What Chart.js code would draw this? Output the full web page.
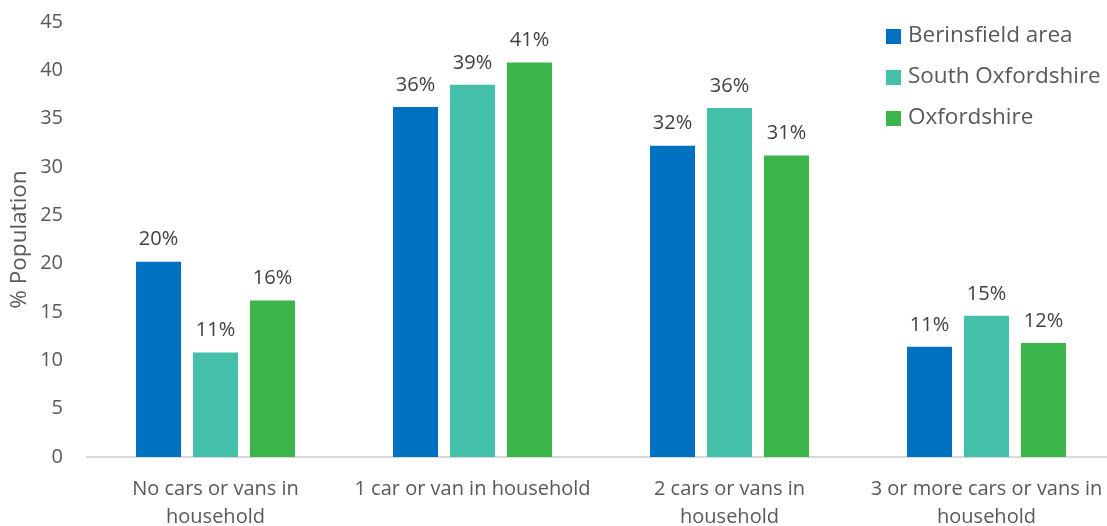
<!DOCTYPE html>
<html>
<head>
<meta charset="utf-8">
<script src="https://cdn.jsdelivr.net/npm/chart.js@4"></script>
<style>
  html, body { margin: 0; padding: 0; background: #fff; overflow: hidden; }
  #wrap { width: 1115px; height: 526px; }
</style>
</head>
<body>
<div id="wrap"><canvas id="chart"></canvas></div>
<script>
const categories = [
    ['No cars or vans in', 'household'],
    ['1 car or van in household'],
    ['2 cars or vans in', 'household'],
    ['3 or more cars or vans in', 'household']
];
const seriesNames = ['Berinsfield area', 'South Oxfordshire', 'Oxfordshire'];
const berinsfield = [20.2, 36.2, 32.2, 11.4];
const southOxon = [10.8, 38.5, 36.1, 14.6];
const oxfordshire = [16.2, 40.8, 31.2, 11.8];
const yTicks = [0, 5, 10, 15, 20, 25, 30, 35, 40, 45];

const colors = ['#0070C0', '#43BFAA', '#3BB54A'];

Chart.defaults.font.family = "'Open Sans', sans-serif";
Chart.defaults.color = '#595959';

// value labels on top of each bar
const barLabels = {
    id: 'barLabels',
    afterDatasetsDraw(chart) {
        const ctx = chart.ctx;
        ctx.save();
        ctx.font = "20px 'Open Sans', sans-serif";
        ctx.fillStyle = '#404040';
        ctx.textAlign = 'center';
        ctx.textBaseline = 'middle';
        chart.data.datasets.forEach((ds, i) => {
            chart.getDatasetMeta(i).data.forEach((bar, j) => {
                ctx.fillText(Math.round(ds.data[j]) + '%', bar.x, bar.y - 22);
            });
        });
        ctx.restore();
    }
};

// vertical legend in the top right corner
const cornerLegend = {
    id: 'cornerLegend',
    afterDraw(chart) {
        const ctx = chart.ctx;
        ctx.save();
        ctx.font = "22.5px 'Open Sans', sans-serif";
        ctx.textBaseline = 'middle';
        ctx.textAlign = 'left';
        chart.data.datasets.forEach((ds, i) => {
            const y = 36 + i * 41;
            ctx.fillStyle = ds.backgroundColor;
            ctx.fillRect(886, y - 7, 15, 15);
            ctx.fillStyle = '#595959';
            ctx.fillText(ds.label, 908, y);
        });
        ctx.restore();
    }
};

new Chart(document.getElementById('chart'), {
    type: 'bar',
    data: {
        labels: categories,
        datasets: [
            { label: seriesNames[0], data: berinsfield, backgroundColor: colors[0] },
            { label: seriesNames[1], data: southOxon, backgroundColor: colors[1] },
            { label: seriesNames[2], data: oxfordshire, backgroundColor: colors[2] }
        ]
    },
    options: {
        responsive: true,
        maintainAspectRatio: false,
        animation: false,
        layout: { padding: { top: 22, right: 0, left: 0, bottom: 0 } },
        datasets: {
            bar: { barPercentage: 0.79, categoryPercentage: 0.665 }
        },
        scales: {
            x: {
                grid: { display: false, drawTicks: false },
                border: { display: true, color: '#D9D9D9', width: 2 },
                ticks: { font: { size: 20, lineHeight: 1.4 }, padding: 18, maxRotation: 0, autoSkip: false },
                afterFit(scale) {
                    scale.height = 69;
                    scale.paddingLeft = 0;
                    scale.paddingRight = 0;
                }
            },
            y: {
                min: 0,
                max: 45,
                afterBuildTicks(scale) { scale.ticks = yTicks.map(v => ({ value: v })); },
                grid: { display: false, drawTicks: false },
                border: { display: false },
                ticks: { font: { size: 20 }, padding: 24 },
                title: { display: true, text: '% Population', font: { size: 22.5 }, padding: { top: 6, bottom: 0 } },
                afterFit(scale) {
                    scale.width = 87;
                    scale.paddingTop = 0;
                    scale.paddingBottom = 0;
                }
            }
        },
        plugins: {
            legend: { display: false },
            tooltip: { enabled: false }
        }
    },
    plugins: [barLabels, cornerLegend]
});
</script>
</body>
</html>
